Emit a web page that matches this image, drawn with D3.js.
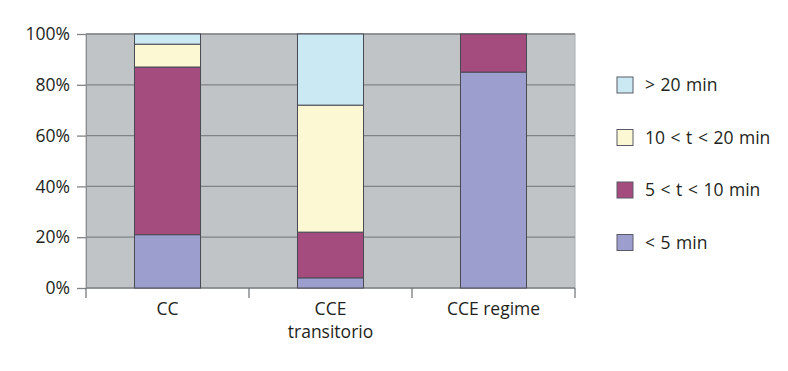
<!DOCTYPE html>
<html>
<head>
<meta charset="utf-8">
<script src="https://cdn.jsdelivr.net/npm/d3@7"></script>
<style>
  body { margin: 0; background: #fff; }
  text { font-family: "Open Sans", Lato, sans-serif; fill: #231f20; }
</style>
</head>
<body>
<div id="chart"></div>
<script>
// categories (multi-line labels) and stacked series, in percent
var categories = ["CC", "CCE transitorio", "CCE regime"];
var categoryLines = [["CC"], ["CCE", "transitorio"], ["CCE regime"]];
var seriesNames = ["< 5 min", "5 < t < 10 min", "10 < t < 20 min", "> 20 min"];
var under5 = [21, 4, 85];
var from5to10 = [66, 18, 15];
var from10to20 = [9, 50, 0];
var over20 = [4, 28, 0];
var yTicks = [0, 20, 40, 60, 80, 100];
var colors = ["#9c9fce", "#a44c7d", "#fbf8d3", "#cbe9f3"];

var width = 788, height = 371;
var margin = { top: 34, left: 86, right: 213, bottom: 83 };
var innerW = width - margin.left - margin.right;
var innerH = height - margin.top - margin.bottom;
var fontSize = 17.5;

var svg = d3.select("#chart").append("svg")
	.attr("width", width)
	.attr("height", height);

var g = svg.append("g")
	.attr("transform", "translate(" + margin.left + "," + margin.top + ")");

// build rows for stack
var seriesValues = [under5, from5to10, from10to20, over20];
var rows = categories.map(function (c, i) {
	var r = { cat: c };
	seriesNames.forEach(function (s, j) { r[s] = seriesValues[j][i]; });
	return r;
});
var stacked = d3.stack().keys(seriesNames)(rows);

var x = d3.scaleBand().domain(categories).range([0, innerW]).paddingInner(0.595).paddingOuter(0.2975);
var xOuter = d3.scaleBand().domain(categories).range([0, innerW]);
var y = d3.scaleLinear().domain([0, 100]).range([innerH, 0]);

// plot background
g.append("rect")
	.attr("width", innerW)
	.attr("height", innerH)
	.attr("fill", "#c1c4c7")
	.attr("stroke", "#a9acaf")
	.attr("stroke-width", 1);

// gridlines
g.selectAll(".grid").data(yTicks).enter().append("line")
	.attr("x1", 0).attr("x2", innerW)
	.attr("y1", function (d) { return y(d); })
	.attr("y2", function (d) { return y(d); })
	.attr("stroke", "#808386")
	.attr("stroke-width", 1.3);

// y axis
var yAxis = g.append("g")
	.call(d3.axisLeft(y).tickValues(yTicks).tickSize(9).tickPadding(7)
		.tickFormat(function (d) { return d + "%"; }));
yAxis.select(".domain").attr("stroke", "#8a8d90");
yAxis.selectAll(".tick line").attr("stroke", "#808386").attr("stroke-width", 1.3);
yAxis.selectAll("text").attr("font-size", fontSize).attr("font-family", null).style("fill", "#231f20");

// x axis ticks at band boundaries
var bounds = categories.map(function (c) { return xOuter(c); }).concat([innerW]);
g.selectAll(".xtick").data(bounds).enter().append("line")
	.attr("x1", function (d) { return d; })
	.attr("x2", function (d) { return d; })
	.attr("y1", innerH)
	.attr("y2", innerH + 10)
	.attr("stroke", "#6d6f72")
	.attr("stroke-width", 1.2);

// x labels
var labels = g.selectAll(".xlabel").data(categories).enter().append("text")
	.attr("text-anchor", "middle")
	.attr("font-size", fontSize)
	.attr("x", function (d) { return xOuter(d) + xOuter.bandwidth() / 2; })
	.attr("y", innerH + 27);
labels.each(function (d, i) {
	var t = d3.select(this);
	categoryLines[i].forEach(function (line, k) {
		t.append("tspan")
			.attr("x", xOuter(d) + xOuter.bandwidth() / 2)
			.attr("dy", k === 0 ? 0 : 23)
			.text(line);
	});
});

// bars
var layers = g.selectAll(".layer").data(stacked).enter().append("g")
	.attr("fill", function (d, i) { return colors[i]; });
layers.selectAll("rect")
	.data(function (d) { return d.filter(function (p) { return p[1] - p[0] > 0; }); })
	.enter().append("rect")
	.attr("x", function (d) { return x(d.data.cat); })
	.attr("width", x.bandwidth())
	.attr("y", function (d) { return y(d[1]); })
	.attr("height", function (d) { return y(d[0]) - y(d[1]); })
	.attr("stroke", "#4a4a55")
	.attr("stroke-width", 1);

// legend
var legendItems = seriesNames.slice().reverse();
var legendColors = colors.slice().reverse();
var legend = svg.append("g").attr("transform", "translate(617,0)");
var li = legend.selectAll(".li").data(legendItems).enter().append("g")
	.attr("transform", function (d, i) { return "translate(0," + (85 + i * 52.5) + ")"; });
li.append("rect")
	.attr("x", 0).attr("y", -8)
	.attr("width", 16).attr("height", 16)
	.attr("fill", function (d, i) { return legendColors[i]; })
	.attr("stroke", "#5a5a66")
	.attr("stroke-width", 1);
li.append("text")
	.attr("x", 28)
	.attr("y", 0)
	.attr("dy", "0.35em")
	.attr("font-size", fontSize)
	.attr("word-spacing", 1)
	.text(function (d) { return d; });
</script>
</body>
</html>
